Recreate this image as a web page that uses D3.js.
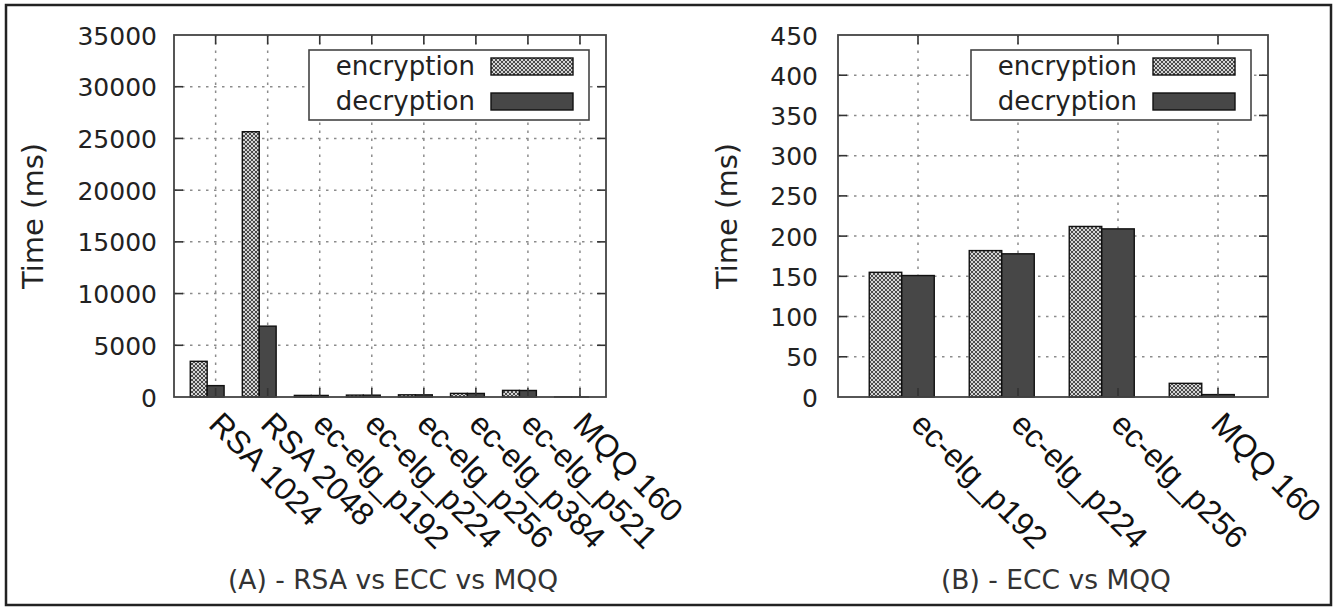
<!DOCTYPE html>
<html>
<head>
<meta charset="utf-8">
<script src="https://cdn.jsdelivr.net/npm/d3@7"></script>
<style>
  body { margin: 0; background: #fff; }
  svg { display: block; }
</style>
</head>
<body>
<svg id="fig" width="1337" height="607"></svg>
<script>
// ---- data ----
const seriesNames = ["encryption", "decryption"];

const catsA = ["RSA 1024", "RSA 2048", "ec-elg_p192", "ec-elg_p224", "ec-elg_p256", "ec-elg_p384", "ec-elg_p521", "MQQ 160"];
const encA = [3450, 25650, 155, 182, 212, 350, 640, 17];
const decA = [1100, 6850, 151, 178, 209, 345, 630, 3];
const ticksA = [0, 5000, 10000, 15000, 20000, 25000, 30000, 35000];

const catsB = ["ec-elg_p192", "ec-elg_p224", "ec-elg_p256", "MQQ 160"];
const encB = [155, 182, 212, 17];
const decB = [151, 178, 209, 3];
const ticksB = [0, 50, 100, 150, 200, 250, 300, 350, 400, 450];

const titleA = "(A) - RSA vs ECC vs MQQ";
const titleB = "(B) - ECC vs MQQ";
const yTitle = "Time (ms)";

// ---- drawing ----
const svg = d3.select("#fig");
svg.append("rect").attr("width", 1337).attr("height", 607).attr("fill", "#fff");

const defs = svg.append("defs");
const pat = defs.append("pattern")
  .attr("id", "xhatch").attr("patternUnits", "userSpaceOnUse")
  .attr("width", 4).attr("height", 4);
pat.append("rect").attr("width", 4).attr("height", 4).attr("fill", "#d4d4d4");
pat.append("path").attr("d", "M0,0L4,4M4,0L0,4")
  .attr("stroke", "#4a4a4a").attr("stroke-width", 1);

const fills = ["url(#xhatch)", "#474747"];
const TICK_FONT = "'DejaVu Sans', sans-serif";
const CAT_FONT = "'Liberation Sans', Arial, sans-serif";

// outer frame
svg.append("rect").attr("x", 6).attr("y", 5).attr("width", 1325).attr("height", 600)
  .attr("fill", "none").attr("stroke", "#222").attr("stroke-width", 2.5);

function panel(cfg) {
  const g = svg.append("g");
  const n = cfg.cats.length;
  const x = d3.scaleLinear().domain([-0.8, n - 0.5]).range([cfg.left, cfg.right]);
  const y = d3.scaleLinear().domain([0, cfg.ticks[cfg.ticks.length - 1]]).range([cfg.bottom, cfg.top]);
  const idx = d3.range(n);
  const bw = 0.325;

  // dotted grid
  const grid = g.append("g").attr("stroke", "#8c8c8c").attr("stroke-width", 1.5)
    .attr("stroke-dasharray", "2.5,5.5");
  grid.selectAll("line.h").data(cfg.ticks.slice(1, -1)).join("line")
    .attr("x1", cfg.left).attr("x2", cfg.right)
    .attr("y1", d => y(d)).attr("y2", d => y(d));
  grid.selectAll("line.v").data(idx).join("line")
    .attr("x1", d => x(d)).attr("x2", d => x(d))
    .attr("y1", cfg.bottom).attr("y2", cfg.top);

  // clustered bars: encryption left of the tick, decryption centred on it
  const series = [cfg.enc, cfg.dec];
  series.forEach((vals, s) => {
    g.append("g").selectAll("rect").data(idx).join("rect")
      .attr("x", d => x(d + (s - 1.5) * bw))
      .attr("y", d => y(vals[d]))
      .attr("width", x(bw) - x(0))
      .attr("height", d => cfg.bottom - y(vals[d]))
      .attr("fill", fills[s])
      .attr("stroke", "#111").attr("stroke-width", 1.4);
  });

  // y tick labels
  const yAxis = d3.axisLeft(y).tickValues(cfg.ticks).tickSize(0).tickPadding(0)
    .tickFormat(d3.format("d"));
  const ya = g.append("g").attr("transform", `translate(${cfg.tickLabelX},0)`).call(yAxis);
  ya.select(".domain").remove();
  ya.selectAll("text").attr("font-family", TICK_FONT).attr("font-size", 25)
    .attr("fill", "#222").attr("dy", "0.36em").attr("x", 0);

  // inward tick marks, mirrored on all sides
  const tl = 9;
  const tk = g.append("g").attr("stroke", "#333").attr("stroke-width", 1.6);
  tk.selectAll("line.yl").data(cfg.ticks.slice(1, -1)).join("line")
    .attr("x1", cfg.left).attr("x2", cfg.left + tl).attr("y1", d => y(d)).attr("y2", d => y(d));
  tk.selectAll("line.yr").data(cfg.ticks.slice(1, -1)).join("line")
    .attr("x1", cfg.right).attr("x2", cfg.right - tl).attr("y1", d => y(d)).attr("y2", d => y(d));
  tk.selectAll("line.xb").data(idx).join("line")
    .attr("x1", d => x(d)).attr("x2", d => x(d)).attr("y1", cfg.bottom).attr("y2", cfg.bottom - tl);
  tk.selectAll("line.xt").data(idx).join("line")
    .attr("x1", d => x(d)).attr("x2", d => x(d)).attr("y1", cfg.top).attr("y2", cfg.top + tl);

  // plot border
  g.append("rect").attr("x", cfg.left).attr("y", cfg.top)
    .attr("width", cfg.right - cfg.left).attr("height", cfg.bottom - cfg.top)
    .attr("fill", "none").attr("stroke", "#444").attr("stroke-width", 1.8);

  // category labels, rotated
  const xa = d3.axisBottom(x).tickValues(idx).tickSize(0).tickFormat(d => cfg.cats[d]);
  const xg = g.append("g").attr("transform", `translate(0,${cfg.bottom})`).call(xa);
  xg.select(".domain").remove();
  xg.selectAll("text")
    .attr("font-family", CAT_FONT).attr("font-size", 32).attr("fill", "#111")
    .attr("text-anchor", "start").attr("y", 0).attr("dy", 0)
    .attr("transform", "translate(-9,29) rotate(45)");

  // y title
  g.append("text").attr("transform", `translate(${cfg.yTitleX},${(cfg.top + cfg.bottom) / 2}) rotate(-90)`)
    .attr("text-anchor", "middle").attr("dy", "0.36em")
    .attr("font-family", TICK_FONT).attr("font-size", 29).attr("fill", "#222")
    .text(yTitle);

  // legend
  const lw = 280, lh = 70;
  const lx = cfg.right - 17 - lw, ly = cfg.top + 15;
  const lg = g.append("g");
  lg.append("rect").attr("x", lx).attr("y", ly).attr("width", lw).attr("height", lh)
    .attr("fill", "#fff").attr("stroke", "#444").attr("stroke-width", 1.6);
  seriesNames.forEach((name, s) => {
    const sy = ly + 8 + s * 35;
    lg.append("rect").attr("x", lx + lw - 16 - 82).attr("y", sy)
      .attr("width", 82).attr("height", 17)
      .attr("fill", fills[s]).attr("stroke", "#111").attr("stroke-width", 1.4);
    lg.append("text").attr("x", lx + lw - 16 - 82 - 16).attr("y", sy + 17)
      .attr("text-anchor", "end").attr("font-family", TICK_FONT).attr("font-size", 26)
      .attr("fill", "#222").text(name);
  });

  // caption
  g.append("text").attr("x", (cfg.left + cfg.right) / 2 + 3).attr("y", 589)
    .attr("text-anchor", "middle").attr("font-family", TICK_FONT).attr("font-size", 26.5)
    .attr("fill", "#333").text(cfg.title);
}

panel({
  left: 174, right: 606, top: 35, bottom: 397,
  cats: catsA, enc: encA, dec: decA, ticks: ticksA,
  tickLabelX: 157, yTitleX: 33, title: titleA
});
panel({
  left: 838, right: 1268, top: 35, bottom: 397,
  cats: catsB, enc: encB, dec: decB, ticks: ticksB,
  tickLabelX: 818, yTitleX: 727, title: titleB
});
</script>
</body>
</html>
